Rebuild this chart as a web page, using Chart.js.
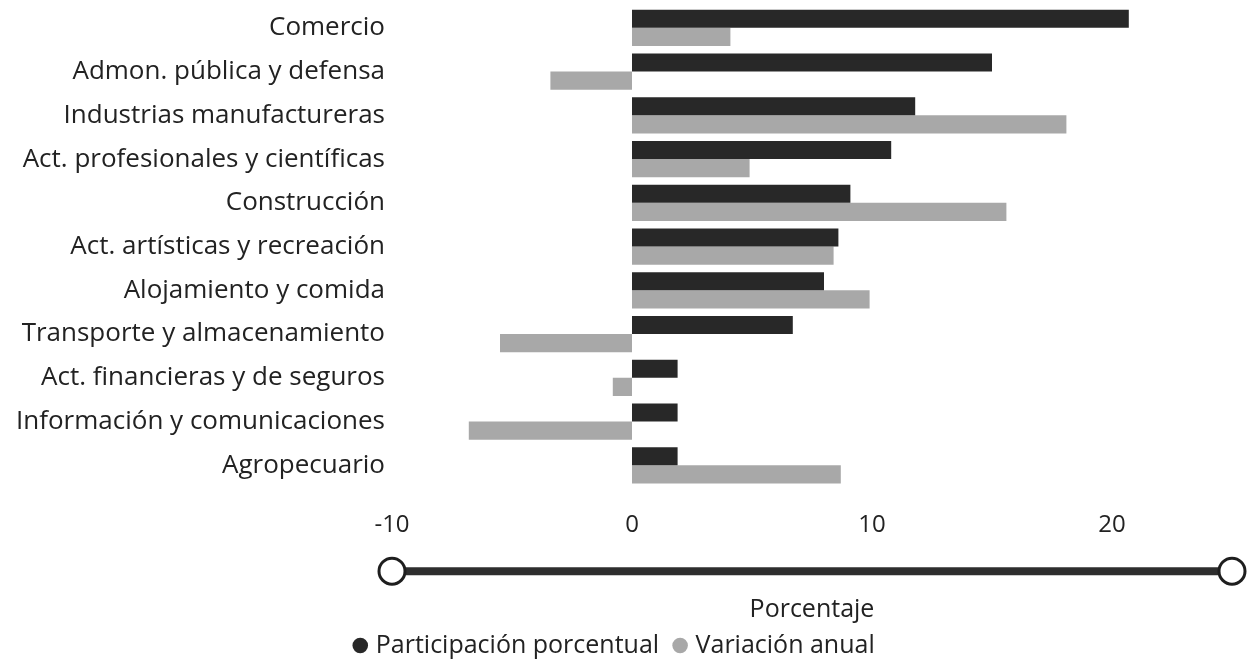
<!DOCTYPE html>
<html lang="es">
<head>
<meta charset="utf-8">
<title>Participación por actividad</title>
<script src="https://cdn.jsdelivr.net/npm/chart.js@4.4.1/dist/chart.umd.min.js"></script>
<style>
  html, body { margin: 0; padding: 0; background: #fff; }
  #wrap { width: 1251px; height: 668px; position: relative; }
</style>
</head>
<body>
<div id="wrap"><canvas id="barChart"></canvas></div>
<script>
// --- DATA ---
const categories = [
    "Comercio",
    "Admon. pública y defensa",
    "Industrias manufactureras",
    "Act. profesionales y científicas",
    "Construcción",
    "Act. artísticas y recreación",
    "Alojamiento y comida",
    "Transporte y almacenamiento",
    "Act. financieras y de seguros",
    "Información y comunicaciones",
    "Agropecuario"
];
const participacion = [20.7, 15.0, 11.8, 10.8, 9.1, 8.6, 8.0, 6.7, 1.9, 1.9, 1.9];
const variacion = [4.1, -3.4, 18.1, 4.9, 15.6, 8.4, 9.9, -5.5, -0.8, -6.8, 8.7];
const xTicks = [-10, 0, 10, 20];
const xMin = -10, xMax = 25;

const DARK = '#282828';
const LIGHT = '#a8a8a8';
const TEXT = '#222';
const FONT = "'Open Sans', 'Noto Sans', sans-serif";

// range slider under the tick labels (decoration only)
const sliderPlugin = {
    id: 'slider',
    afterDraw(chart) {
        const ctx = chart.ctx;
        const xs = chart.scales.x;
        const x0 = xs.getPixelForValue(xMin);
        const x1 = xs.getPixelForValue(xMax);
        const y = chart.chartArea.bottom + 84;
        ctx.save();
        ctx.strokeStyle = '#2e2e2e';
        ctx.lineWidth = 8;
        ctx.beginPath(); ctx.moveTo(x0, y); ctx.lineTo(x1, y); ctx.stroke();
        [x0, x1].forEach(cx => {
            ctx.beginPath();
            ctx.arc(cx, y, 13, 0, Math.PI * 2);
            ctx.fillStyle = '#fff'; ctx.fill();
            ctx.lineWidth = 3; ctx.strokeStyle = '#1e1e1e'; ctx.stroke();
        });
        ctx.restore();
    }
};

new Chart(document.getElementById('barChart').getContext('2d'), {
    type: 'bar',
    data: {
        labels: categories,
        datasets: [
            { label: 'Participación porcentual', data: participacion, backgroundColor: DARK, borderWidth: 0, categoryPercentage: 0.83, barPercentage: 1 },
            { label: 'Variación anual', data: variacion, backgroundColor: LIGHT, borderWidth: 0, categoryPercentage: 0.83, barPercentage: 1 }
        ]
    },
    options: {
        indexAxis: 'y',
        responsive: true, maintainAspectRatio: false,
        animation: false,
        layout: { padding: { top: 6, right: 19, left: 0, bottom: 0 } },
        plugins: {
            tooltip: { enabled: false },
            legend: {
                position: 'bottom',
                labels: {
                    usePointStyle: true, pointStyle: 'circle',
                    boxWidth: 6, boxHeight: 11, padding: 18,
                    color: TEXT, font: { family: FONT, size: 25 }
                }
            }
        },
        scales: {
            x: {
                min: xMin, max: xMax,
                grid: { display: false, drawTicks: false },
                border: { display: false },
                afterBuildTicks: (axis) => { axis.ticks = xTicks.map(v => ({ value: v })); },
                ticks: { padding: 24, color: TEXT, font: { family: FONT, size: 24 } },
                title: { display: true, text: 'Porcentaje', color: TEXT, padding: { top: 31, bottom: -10 }, font: { family: FONT, size: 25 } }
            },
            y: {
                grid: { display: false, drawTicks: false },
                border: { display: false },
                afterFit: (scale) => { scale.width = 392; scale.paddingTop = 0; scale.paddingBottom = 0; },
                ticks: { padding: 7, color: TEXT, font: { family: FONT, size: 26 } }
            }
        }
    },
    plugins: [sliderPlugin]
});
</script>
</body>
</html>
